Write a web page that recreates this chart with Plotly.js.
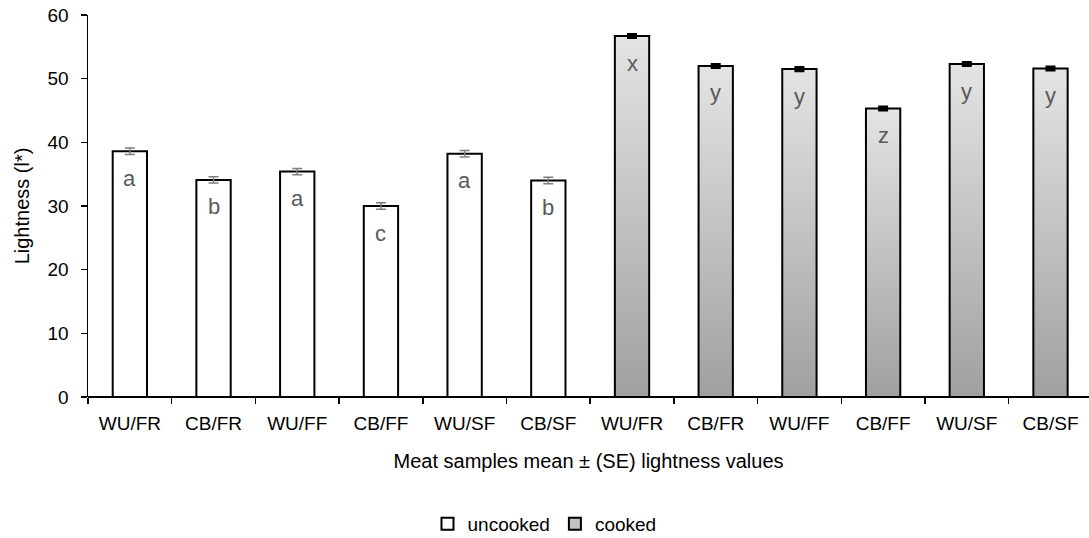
<!DOCTYPE html>
<html><head><meta charset="utf-8">
<script src="https://cdn.plot.ly/plotly-3.0.1.min.js"></script>
<style>html,body{margin:0;padding:0;background:#fff;}#chart{width:1089px;height:538px;}</style>
</head><body><div id="chart"></div>
<script>
const samples = ["WU/FR","CB/FR","WU/FF","CB/FF","WU/SF","CB/SF"];
const uncookedMean = [38.6, 34.1, 35.4, 30.0, 38.2, 34.0];
const uncookedSE   = [0.5, 0.5, 0.5, 0.5, 0.5, 0.5];
const uncookedLetters = ["a","b","a","c","a","b"];
const cookedMean = [56.7, 52.0, 51.5, 45.3, 52.3, 51.6];
const cookedSE   = [0.2, 0.2, 0.2, 0.2, 0.2, 0.2];
const cookedLetters = ["x","y","y","z","y","y"];

const n = samples.length;
const xU = samples.map((_, i) => i);
const xC = samples.map((_, i) => i + n);
const barW = 0.41;
const fontFam = "Liberation Sans, Arial, sans-serif";

const gradSvg = 'data:image/svg+xml;base64,' + btoa(
  '<svg xmlns="http://www.w3.org/2000/svg" width="10" height="100" preserveAspectRatio="none">' +
  '<defs><linearGradient id="g" x1="0" y1="0" x2="0" y2="1">' +
  '<stop offset="0" stop-color="#e4e4e4"/><stop offset="1" stop-color="#a0a0a0"/></linearGradient></defs>' +
  '<rect width="10" height="100" fill="url(#g)"/></svg>');

const images = cookedMean.map((v, i) => ({
  source: gradSvg, xref: 'x', yref: 'y',
  x: xC[i] - barW / 2, y: v, sizex: barW, sizey: v,
  xanchor: 'left', yanchor: 'top', sizing: 'stretch', layer: 'below'
}));

const letterFont = {family: fontFam, size: 22, color: '#595959'};
const annotations = [];
uncookedMean.forEach((v, i) => annotations.push({
  x: xU[i], y: v, text: uncookedLetters[i], showarrow: false,
  yanchor: 'middle', yshift: -27, font: letterFont
}));
cookedMean.forEach((v, i) => annotations.push({
  x: xC[i], y: v, text: cookedLetters[i], showarrow: false,
  yanchor: 'middle', yshift: -27, font: letterFont
}));

const traces = [
  {type: 'bar', name: 'uncooked', x: xU, y: uncookedMean, width: barW,
   marker: {color: '#ffffff', line: {color: '#000000', width: 2}},
   error_y: {type: 'data', array: uncookedSE, visible: true, color: '#7f7f7f', thickness: 1.5, width: 5},
   hoverinfo: 'skip'},
  {type: 'bar', name: 'cooked', x: xC, y: cookedMean, width: barW, showlegend: false,
   marker: {color: 'rgba(0,0,0,0)', line: {color: '#000000', width: 2}},
   error_y: {type: 'data', array: cookedSE, visible: true, color: '#000000', thickness: 3.5, width: 5},
   hoverinfo: 'skip'},
  {type: 'bar', name: 'cooked', x: [null], y: [null],
   marker: {color: '#c2c2c2', line: {color: '#000000', width: 2}}, hoverinfo: 'skip'}
];

const layout = {
  width: 1089, height: 538,
  margin: {l: 88, r: 0, t: 15, b: 141},
  paper_bgcolor: '#ffffff', plot_bgcolor: 'rgba(0,0,0,0)',
  barmode: 'overlay',
  font: {family: fontFam, size: 19, color: '#000000'},
  xaxis: {
    range: [-0.5, 11.46], showgrid: false, zeroline: false,
    showline: false,
    tickmode: 'array', tickvals: xU.concat(xC), ticktext: samples.concat(samples),
    ticks: '', tickfont: {size: 19}, ticklabelstandoff: 13,
    minor: {ticks: 'outside', tickmode: 'linear', tick0: -0.5, dtick: 1, ticklen: 6, tickwidth: 1.5, tickcolor: '#000', showgrid: false},
    title: {text: 'Meat samples mean ± (SE) lightness values', font: {size: 20}, standoff: 20}
  },
  yaxis: {
    range: [0, 60], dtick: 10, showgrid: false, zeroline: true, zerolinecolor: '#000', zerolinewidth: 1.5,
    showline: true, linecolor: '#000', linewidth: 1.5,
    ticks: 'outside', ticklen: 6, tickwidth: 1.5, tickcolor: '#000', tickfont: {size: 19}, ticklabelstandoff: 8,
    title: {text: 'Lightness (l*)', font: {size: 20}, standoff: 12}
  },
  legend: {orientation: 'h', xref: 'container', yref: 'container', x: 0.5, xanchor: 'center',
           y: 0.026, yanchor: 'middle', font: {size: 19}, itemwidth: 30, traceorder: 'normal'},
  images: images,
  annotations: annotations,
  showlegend: true
};

Plotly.newPlot('chart', traces, layout, {staticPlot: true});
</script></body></html>
